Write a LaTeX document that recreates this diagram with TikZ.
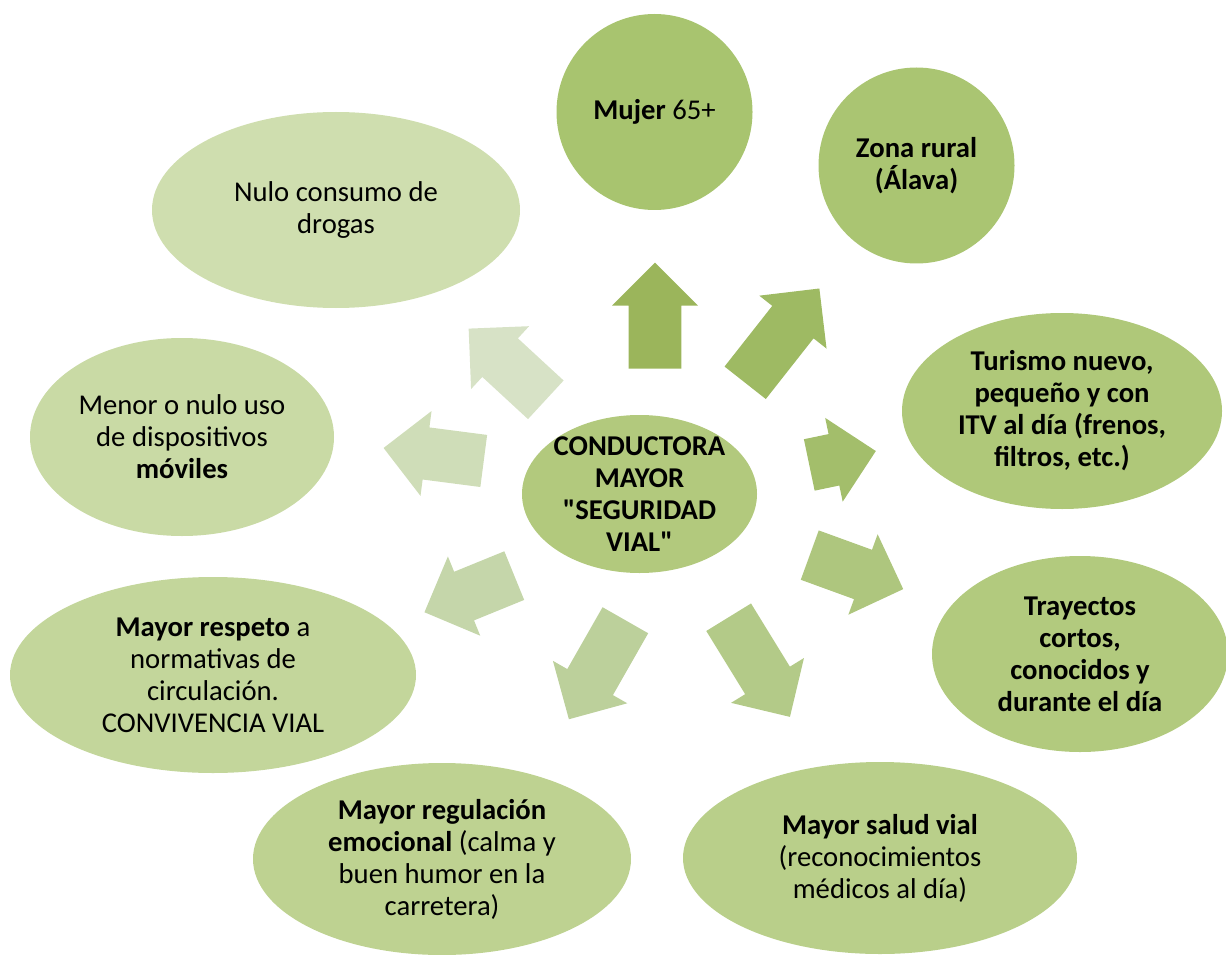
\documentclass[tikz,border=0pt]{standalone}
\usepackage{fontspec}
\setmainfont{Carlito}
\newfontfamily\rectas{Carlito}
\usepackage{tikz}
\usetikzlibrary{shapes.geometric,shapes.arrows}
\definecolor{VerdeCentro}{HTML}{B2C97D}
\definecolor{Verde1}{HTML}{A8C46F}
\definecolor{Verde2}{HTML}{AAC572}
\definecolor{Verde3}{HTML}{AFC879}
\definecolor{Verde4}{HTML}{B2CA7E}
\definecolor{Verde5}{HTML}{B9CF8A}
\definecolor{Verde6}{HTML}{BED291}
\definecolor{Verde7}{HTML}{C3D69B}
\definecolor{Verde8}{HTML}{C9DAA5}
\definecolor{Verde9}{HTML}{CFDEAF}
\definecolor{Flecha1}{HTML}{9BB55B}
\definecolor{Flecha2}{HTML}{9EBA63}
\definecolor{Flecha3}{HTML}{A3BE6B}
\definecolor{Flecha4}{HTML}{AEC67E}
\definecolor{Flecha5}{HTML}{B3CA88}
\definecolor{Flecha6}{HTML}{BCD09B}
\definecolor{Flecha7}{HTML}{C5D6AA}
\definecolor{Flecha8}{HTML}{CFDDB8}
\definecolor{Flecha9}{HTML}{D7E2C6}

\begin{document}
\begin{tikzpicture}[
    x=0.75pt, y=-0.75pt,
    bubble/.style={
        ellipse,
        inner sep=0pt,
        align=center,
        font=\fontsize{21.5}{24}\selectfont
    },
    ball/.style={
        circle,
        inner sep=0pt,
        minimum size=147pt,
        align=center,
        font=\fontsize{21.5}{24}\selectfont
    },
    flecha/.style={
        single arrow,
        inner xsep=0pt,
        inner ysep=19.5pt,
        single arrow head extend=12.4pt,
        anchor=tail
    }
]
\useasboundingbox (0,0) rectangle (1226,955);

% centro
\node[bubble, fill=VerdeCentro, inner sep=-10pt, minimum width=176.25pt, minimum height=118.5pt,
      font=\rectas\fontsize{21.5}{24}\selectfont\bfseries] (centro) at (639.5,494)
    {CONDUCTORA\\MAYOR\\"SEGURIDAD\\VIAL"};

% globos
\node[ball, fill=Verde1] (mujer) at (654.5,112) {\textbf{Mujer} 65+};
\node[ball, fill=Verde2, font=\fontsize{21.5}{24}\selectfont\bfseries] (zona) at (916.5,165.5)
    {Zona rural\\(Álava)};
\node[bubble, fill=Verde3, minimum width=240pt, minimum height=147pt,
      font=\fontsize{21.5}{24}\selectfont\bfseries] (turismo) at (1062,411)
    {Turismo nuevo,\\pequeño y con\\ITV al día (frenos,\\filtros, etc.)};
\node[bubble, fill=Verde4, minimum width=222pt, minimum height=147pt,
      font=\fontsize{21.5}{24}\selectfont\bfseries] (trayectos) at (1080,654)
    {Trayectos\\cortos,\\conocidos y\\durante el día};
\node[bubble, fill=Verde5, minimum width=295.5pt, minimum height=144pt] (salud) at (880,858)
    {\textbf{Mayor salud vial}\\(reconocimientos\\médicos al día)};
\node[bubble, fill=Verde6, minimum width=283.5pt, minimum height=144pt] (regulacion) at (442,859)
    {\textbf{Mayor regulación}\\\textbf{emocional} (calma y\\buen humor en la\\carretera)};
\node[bubble, fill=Verde7, minimum width=304.5pt, minimum height=147pt] (respeto) at (213,675)
    {\textbf{Mayor respeto} a\\normativas de\\circulación.\\CONVIVENCIA VIAL};
\node[bubble, fill=Verde8, minimum width=228pt, minimum height=148.5pt] (moviles) at (182,437)
    {Menor o nulo uso\\de dispositivos\\\textbf{móviles}};
\node[bubble, fill=Verde9, minimum width=276pt, minimum height=147pt] (drogas) at (336,210)
    {Nulo consumo de\\drogas};

% flechas
\node[flecha, fill=Flecha1, minimum height=79.5pt, rotate=90] (f-mujer) at (655,369) {};
\node[flecha, fill=Flecha2, minimum height=90pt, rotate=51.8] (f-zona) at (745,383) {};
\node[flecha, fill=Flecha3, minimum height=51pt, rotate=11.8] (f-turismo) at (809,465) {};
\node[flecha, fill=Flecha4, minimum height=74.6pt, rotate=-20] (f-trayectos) at (809.5,555) {};
\node[flecha, fill=Flecha5, minimum height=87.75pt, rotate=-58.4] (f-salud) at (728.5,617) {};
\node[flecha, fill=Flecha6, minimum height=85.5pt, rotate=240.3] (f-regulacion) at (625.5,620) {};
\node[flecha, fill=Flecha7, minimum height=72.75pt, rotate=202.2] (f-respeto) at (514.5,575.5) {};
\node[flecha, fill=Flecha8, minimum height=75.75pt, rotate=172.6] (f-moviles) at (484,461) {};
\node[flecha, fill=Flecha9, minimum height=78.75pt, rotate=137.3] (f-drogas) at (546,400) {};

\end{tikzpicture}
\end{document}
